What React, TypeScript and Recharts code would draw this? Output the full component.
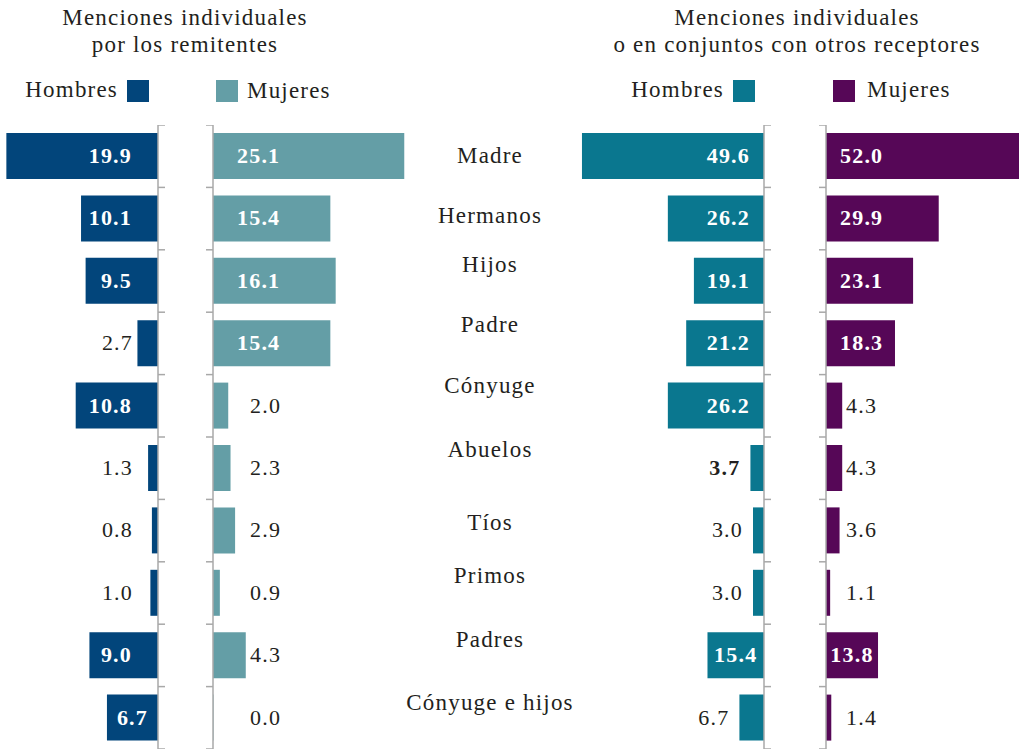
import React from 'react';
import { BarChart, Bar, XAxis, YAxis, LabelList } from 'recharts';

// ---------- data ----------
const categories = ['Madre', 'Hermanos', 'Hijos', 'Padre', 'Cónyuge', 'Abuelos', 'Tíos', 'Primos', 'Padres', 'Cónyuge e hijos'];
const remitHombres = [19.9, 10.1, 9.5, 2.7, 10.8, 1.3, 0.8, 1.0, 9.0, 6.7];
const remitMujeres = [25.1, 15.4, 16.1, 15.4, 2.0, 2.3, 2.9, 0.9, 4.3, 0.0];
const conjHombres = [49.6, 26.2, 19.1, 21.2, 26.2, 3.7, 3.0, 3.0, 15.4, 6.7];
const conjMujeres = [52.0, 29.9, 23.1, 18.3, 4.3, 4.3, 3.6, 1.1, 13.8, 1.4];

const titleLeft = ['Menciones individuales', 'por los remitentes'];
const titleRight = ['Menciones individuales', 'o en conjuntos con otros receptores'];
const legendLabels = ['Hombres', 'Mujeres'];
const boldOutsideCategories = ['Abuelos'];

// ---------- style ----------
const FONT = '"Liberation Serif", "Times New Roman", serif';
const TEXT = '#231f20';
const AXIS = '#a8a8a8';
const C_RH = '#02457b';
const C_RM = '#649ea6';
const C_CH = '#0a778f';
const C_CM = '#560757';
const PLOT_TOP = 125;
const PLOT_H = 624;
const AXW = 10;
const LS = 1.2;
// vertical nudge of the category labels (baseline relative to band centre)
const categoryShift = [7, 4, -9, -11, -13, -11, -1, -10, -8, -8];

const data = categories.map((name, i) => ({
  name,
  rh: remitHombres[i],
  rm: remitMujeres[i],
  ch: conjHombres[i],
  cm: conjMujeres[i],
}));

type LabelCfg = {
  dir: 'left' | 'right';
  inOff: number;
  outOff: number;
  outFromBar?: boolean;
  centerBelow: number;
  boldOut?: boolean;
};

function renderValue(p: any, cfg: LabelCfg) {
  const vb = p.viewBox || {};
  const bx = Number(p.x ?? vb.x);
  const by = Number(p.y ?? vb.y);
  const bw = Number(p.width ?? vb.width ?? 0);
  const bh = Number(p.height ?? vb.height ?? 0);
  const left = Math.min(bx, bx + bw);
  const right = Math.max(bx, bx + bw);
  const px = right - left;
  const cy = by + bh / 2 + 7;
  const v = Number(p.value);
  const inside = px > 45;
  const name = categories[p.index];
  let x: number;
  let anchor: 'start' | 'end' | 'middle';
  if (inside && px < cfg.centerBelow) {
    x = (left + right) / 2;
    anchor = 'middle';
  } else if (cfg.dir === 'left') {
    const axisX = right;
    if (inside) {
      x = axisX - cfg.inOff;
    } else {
      x = cfg.outFromBar ? left - cfg.outOff : axisX - cfg.outOff;
    }
    anchor = 'end';
  } else {
    const axisX = left;
    x = axisX + (inside ? cfg.inOff : cfg.outOff);
    anchor = 'start';
  }
  const bold = inside || (cfg.boldOut && boldOutsideCategories.includes(name));
  return (
    <text
      key={`v-${p.index}`}
      x={x}
      y={cy}
      textAnchor={anchor}
      fontFamily={FONT}
      fontSize={22}
      fontWeight={bold ? 700 : 400}
      letterSpacing={LS}
      fill={inside ? '#ffffff' : TEXT}
    >
      {v.toFixed(1)}
    </text>
  );
}

function BracketTick(props: any) {
  const { x, y, payload, index, visibleTicksCount, side, showCategory } = props;
  const half = payload && payload.offset ? payload.offset : PLOT_H / categories.length / 2;
  const s = side === 'right' ? 1 : -1;
  const last = index === (visibleTicksCount ?? categories.length) - 1;
  return (
    <g>
      <line x1={x} x2={x + s * 7} y1={y - half} y2={y - half} stroke={AXIS} strokeWidth={1.5} />
      {last && <line x1={x} x2={x + s * 7} y1={y + half} y2={y + half} stroke={AXIS} strokeWidth={1.5} />}
      {showCategory && (
        <text
          x={x + 277}
          y={y + categoryShift[index]}
          textAnchor="middle"
          fontFamily={FONT}
          fontSize={23}
          letterSpacing={LS}
          fill={TEXT}
        >
          {payload.value}
        </text>
      )}
    </g>
  );
}

type PanelProps = {
  left: number;
  plotWidth: number;
  domainMax: number;
  dataKey: string;
  color: string;
  dir: 'left' | 'right';
  label: LabelCfg;
  showCategory?: boolean;
};

function Panel({ left, plotWidth, domainMax, dataKey, color, dir, label, showCategory }: PanelProps) {
  const side = dir === 'left' ? 'right' : 'left';
  return (
    <div style={{ position: 'absolute', left, top: PLOT_TOP }}>
      <BarChart
        width={plotWidth + AXW}
        height={PLOT_H}
        data={data}
        layout="vertical"
        margin={{ top: 0, right: 0, bottom: 0, left: 0 }}
        barCategoryGap={8}
      >
        <XAxis type="number" hide domain={[0, domainMax]} reversed={dir === 'left'} allowDataOverflow />
        <YAxis
          type="category"
          dataKey="name"
          orientation={side}
          width={AXW}
          axisLine={{ stroke: AXIS, strokeWidth: 1.5 }}
          tickLine={false}
          tickSize={0}
          tickMargin={0}
          interval={0}
          tick={(p: any) => <BracketTick {...p} side={side} showCategory={showCategory} />}
        />
        <Bar dataKey={dataKey} fill={color} isAnimationActive={false} minPointSize={0.5}>
          <LabelList dataKey={dataKey} content={(p: any) => renderValue(p, label)} />
        </Bar>
      </BarChart>
    </div>
  );
}

function Header() {
  const t = { fontFamily: FONT, fontSize: 23, letterSpacing: LS, fill: TEXT } as const;
  return (
    <svg width={1019} height={120} style={{ position: 'absolute', left: 0, top: 0 }}>
      <text x={185} y={25} textAnchor="middle" {...t}>{titleLeft[0]}</text>
      <text x={185} y={52} textAnchor="middle" {...t}>{titleLeft[1]}</text>
      <text x={797} y={25} textAnchor="middle" {...t}>{titleRight[0]}</text>
      <text x={797} y={52} textAnchor="middle" {...t}>{titleRight[1]}</text>

      <text x={118} y={97} textAnchor="end" {...t}>{legendLabels[0]}</text>
      <rect x={127} y={80} width={22} height={22} fill={C_RH} />
      <rect x={216} y={80} width={22} height={22} fill={C_RM} />
      <text x={247} y={98} textAnchor="start" {...t}>{legendLabels[1]}</text>

      <text x={724} y={97} textAnchor="end" {...t}>{legendLabels[0]}</text>
      <rect x={733} y={80} width={22} height={22} fill={C_CH} />
      <rect x={833} y={80} width={22} height={22} fill={C_CM} />
      <text x={867} y={97} textAnchor="start" {...t}>{legendLabels[1]}</text>
    </svg>
  );
}

export default function App() {
  return (
    <div
      style={{
        position: 'absolute',
        left: 0,
        top: 0,
        width: 1019,
        height: 751,
        overflow: 'hidden',
        background: '#ffffff',
      }}
    >
      <Header />
      <Panel
        left={0}
        plotWidth={158}
        domainMax={158 / 7.62}
        dataKey="rh"
        color={C_RH}
        dir="left"
        label={{ dir: 'left', inOff: 26, outOff: 25, centerBelow: 60 }}
      />
      <Panel
        left={213 - AXW}
        plotWidth={365}
        domainMax={365 / 7.62}
        dataKey="rm"
        color={C_RM}
        dir="right"
        label={{ dir: 'right', inOff: 24, outOff: 37, centerBelow: 60 }}
        showCategory
      />
      <Panel
        left={764 - 191}
        plotWidth={191}
        domainMax={191 / 3.67}
        dataKey="ch"
        color={C_CH}
        dir="left"
        label={{ dir: 'left', inOff: 14, outOff: 10, outFromBar: true, centerBelow: 60, boldOut: true }}
      />
      <Panel
        left={826 - AXW}
        plotWidth={200}
        domainMax={200 / 3.77}
        dataKey="cm"
        color={C_CM}
        dir="right"
        label={{ dir: 'right', inOff: 14, outOff: 20, centerBelow: 60 }}
      />
    </div>
  );
}
